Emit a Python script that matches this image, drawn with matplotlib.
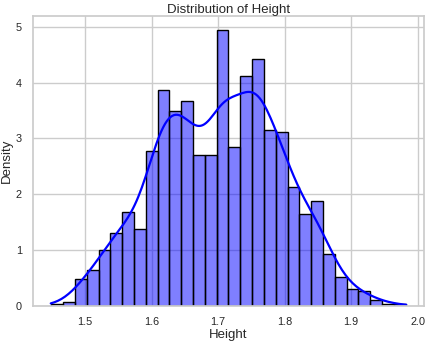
import numpy as np
import matplotlib
matplotlib.use('Agg')
import matplotlib.pyplot as plt
import seaborn as sns

# histogram: 30 bins between min and max height
h_min, h_max = 1.449, 1.982
n_bins = 30
density = [0.04, 0.07, 0.48, 0.63, 1.02, 1.30, 1.70, 1.37, 2.78, 3.88,
           3.48, 3.67, 2.70, 2.72, 4.94, 2.87, 4.12, 4.41, 3.14, 3.11,
           2.14, 1.65, 1.87, 0.92, 0.51, 0.30, 0.27, 0.10, 0.04, 0.04]
n_samples = 1500

edges = np.linspace(h_min, h_max, n_bins + 1)
width = edges[1] - edges[0]
centers = (edges[:-1] + edges[1:]) / 2
counts = np.maximum(np.round(np.array(density) * width * n_samples), 1).astype(int)
heights = np.repeat(centers, counts)

sns.set_theme(style='whitegrid')
plt.rcParams['font.family'] = ['Liberation Sans', 'DejaVu Sans']

fig = plt.figure(figsize=(4.29, 3.46), dpi=100)
ax = fig.add_axes([0.0769, 0.1156, 0.9114, 0.8382])

sns.histplot(heights, bins=edges, stat='density', kde=True, color='blue',
             edgecolor='black', alpha=0.5, linewidth=1.0,
             line_kws={'linewidth': 1.6},
             kde_kws={'cut': 0.43, 'bw_adjust': 1.04}, ax=ax)

ax.set_xticks([1.5, 1.6, 1.7, 1.8, 1.9, 2.0])
ax.set_title('Distribution of Height', fontsize=9.5, pad=2)
ax.set_xlabel('Height', fontsize=9.5, labelpad=1)
ax.set_ylabel('Density', fontsize=9.5, labelpad=2)
ax.tick_params(labelsize=7.8, pad=2)

fig.savefig('out.png', dpi=100)
